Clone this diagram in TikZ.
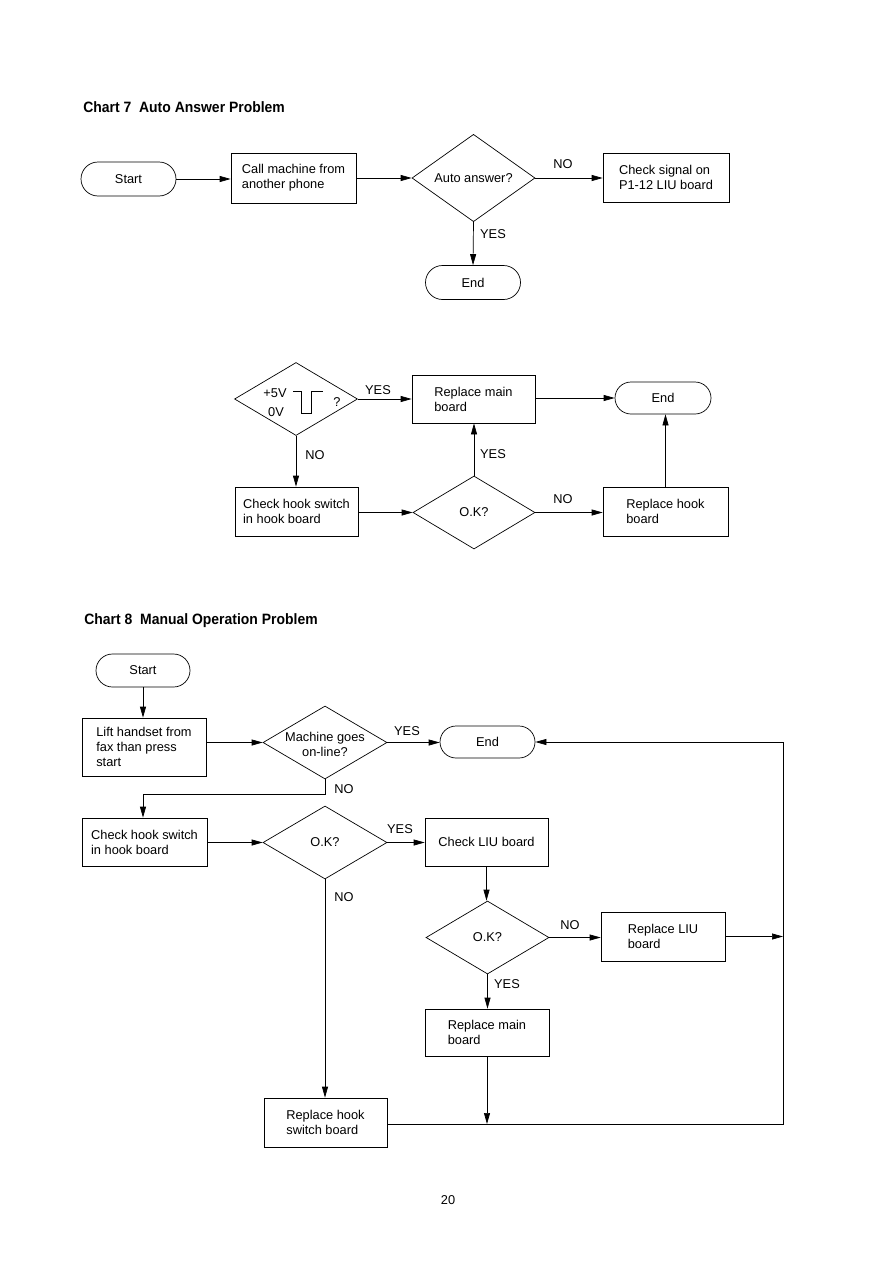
\documentclass[tikz,border=0pt]{standalone}
\usepackage{fontspec}
\usepackage{graphicx}
\setmainfont{Liberation Sans}
\usetikzlibrary{shapes.geometric,shapes.misc,arrows.meta}
\begin{document}
\begin{tikzpicture}[x=1pt,y=-1pt,
  every node/.style={font=\fontsize{12.8}{15}\selectfont},
  box/.style={draw, rectangle, minimum width=124, minimum height=49, inner sep=0, align=left},
  term/.style={draw, rounded rectangle, minimum width=95, minimum height=34, inner sep=0},
  dec/.style={draw, diamond, minimum width=123, minimum height=73, inner sep=0, align=center},
  lbl/.style={inner sep=0},
  ttl/.style={anchor=base west, inner sep=0, font=\bfseries\fontsize{15}{17}\selectfont},
  arr/.style={-{Triangle[length=11pt,width=6pt]}},
  line width=0.7pt]
\useasboundingbox (0,0) rectangle (893,1263);

% ---------- Chart 7 ----------
\node[ttl] (t7) at (83,112) {\scalebox{0.93}[1]{Chart 7\ \ Auto Answer Problem}};

\node[term] (s1) at (128.5,179) {Start};
\node[box, minimum width=125, minimum height=50] (b1) at (293.5,178) {Call machine from\\another phone};
\node[dec] (d1) at (473.5,178) {Auto answer?};
\node[box, minimum width=126, minimum height=49] (b2) at (666,177.5) {Check signal on\\P1-12 LIU board};
\node[term] (e1) at (473,282.5) {End};
\draw[arr] (s1.east) -- (s1.east -| b1.west);
\draw[arr] (b1.east |- d1.west) -- (d1.west);
\draw[arr] (d1.east) -- (d1.east -| b2.west);
\draw[arr] (d1.south) -- (e1.north);
\node[lbl] (l1) at (563,164) {NO};
\node[lbl] (l2) at (493,234) {YES};

% ---------- middle chart ----------
\node[dec] (d2) at (296,399) {};
\node[lbl] (v5) at (275,393) {+5V};
\node[lbl] (v0) at (276,412) {0V};
\node[lbl] (q) at (337,402) {?};
\draw[line width=0.8pt] (293,391.7) -- (301.7,391.7) -- (301.7,413.3) -- (311.7,413.3) -- (311.7,391.7) -- (322.7,391.7);
\node[box, minimum width=123, minimum height=48] (b3) at (473.5,399) {Replace main\\board};
\node[term, minimum width=96, minimum height=32] (e2) at (663,398) {End};
\node[box, minimum width=123, minimum height=49] (b4) at (296.5,511.5) {Check hook switch\\in hook board};
\node[dec, minimum width=122] (d3) at (474,512.5) {O.K?};
\node[box, minimum width=125, minimum height=49] (b5) at (665.5,511.5) {Replace hook\\board};
\draw[arr] (d2.east) -- (d2.east -| b3.west);
\draw[arr] (b3.east |- e2.west) -- (e2.west);
\draw[arr] (d2.south) -- (d2.south |- b4.north);
\draw[arr] (b4.east |- d3.west) -- (d3.west);
\draw[arr] (d3.north) -- (d3.north |- b3.south);
\draw[arr] (d3.east) -- (d3.east -| b5.west);
\draw[arr] (b5.north) -- (b5.north |- e2.south);
\node[lbl] (l3) at (378,390) {YES};
\node[lbl] (l4) at (315,455) {NO};
\node[lbl] (l5) at (493,454) {YES};
\node[lbl] (l6) at (563,499) {NO};

% ---------- Chart 8 ----------
\node[ttl] (t8) at (84,624) {\scalebox{0.93}[1]{Chart 8\ \ Manual Operation Problem}};

\node[term, minimum width=94, minimum height=33] (s3) at (143,670.5) {Start};
\node[box, minimum width=124, minimum height=58] (b6) at (144,747) {Lift handset from\\fax than press\\start};
\node[dec, minimum width=124] (d4) at (325,742.5) {};
\node[lbl, align=center] (d4t) at (325,744) {Machine goes\\on-line?};
\node[term, minimum height=32] (e3) at (487.5,742) {End};
\node[box, minimum width=125, minimum height=48] (b7) at (144.5,842) {Check hook switch\\in hook board};
\node[dec, minimum width=124] (d5) at (325,842.5) {O.K?};
\node[box, minimum width=123, minimum height=48] (b8) at (486.5,842) {Check LIU board};
\node[dec] (d6) at (487.5,937.5) {O.K?};
\node[box, minimum width=124, minimum height=49] (b9) at (663,936.5) {Replace LIU\\board};
\node[box, minimum width=124, minimum height=47] (b10) at (487,1032.5) {Replace main\\board};
\node[box, minimum width=123, minimum height=49] (b11) at (325.5,1122.5) {Replace hook\\switch board};

\coordinate (cR) at (783,742);
\coordinate (cB) at (783,1124);
\coordinate (j1) at (487,1124);
\coordinate (n1) at (325,794);
\coordinate (n2) at (143,794);

\draw[arr] (s3.south) -- (s3.south |- b6.north);
\draw[arr] (b6.east |- d4.west) -- (d4.west);
\draw[arr] (d4.east) -- (d4.east -| e3.west);
\draw[arr] (d4.south) -- (n1) -- (n2) -- (n2 |- b7.north);
\draw[arr] (b7.east |- d5.west) -- (d5.west);
\draw[arr] (d5.east) -- (d5.east -| b8.west);
\draw[arr] (d5.south) -- (d5.south |- b11.north);
\draw[arr] (b8.south) -- (b8.south |- d6.north);
\draw[arr] (d6.east) -- (d6.east -| b9.west);
\draw[arr] (b9.east) -- (b9.east -| cR);
\draw[arr] (d6.south) -- (d6.south |- b10.north);
\draw[arr] (b10.south) -- (j1);
\draw[arr] (b11.east |- cB) -- (cB) -- (cR) -- (e3.east);
\node[lbl] (l7) at (407,731) {YES};
\node[lbl] (l8) at (344,789) {NO};
\node[lbl] (l9) at (400,829) {YES};
\node[lbl] (l10) at (344,897) {NO};
\node[lbl] (l11) at (570,925) {NO};
\node[lbl] (l12) at (507,984) {YES};

\node[lbl] (pg) at (448,1200) {20};
\end{tikzpicture}
\end{document}
